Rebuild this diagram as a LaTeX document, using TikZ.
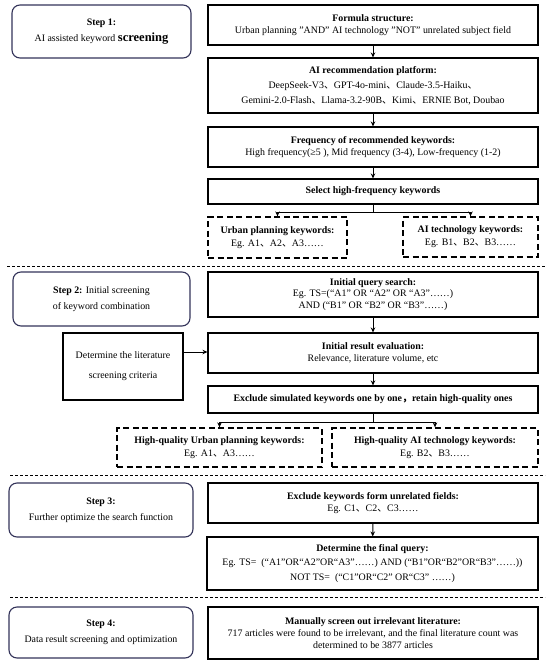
\documentclass[tikz,border=0pt]{standalone}
\usepackage{fontspec}
\setmainfont{Liberation Serif}
\newfontfamily\cjkfont{Noto Sans CJK SC}
\newcommand\dunh{{\cjkfont 、}}
\newcommand\fcomma{{\cjkfont ，}}
\usetikzlibrary{arrows.meta,calc}
\begin{document}
\begin{tikzpicture}[x=1pt,y=-1pt,
  box/.style={draw=black,line width=1.1pt,inner sep=1pt,align=center,font=\fontsize{9.9}{12.5}\selectfont},
  dbox/.style={draw=black,line width=1.3pt,dash pattern=on 6pt off 3.5pt,inner sep=1pt,align=center,font=\fontsize{9.9}{13}\selectfont},
  stepbox/.style={draw=black!75!blue!60!gray,line width=1.1pt,rounded corners=8pt,inner sep=1pt,align=center,font=\fontsize{9.9}{16}\selectfont},
  sep/.style={line width=0.9pt,dash pattern=on 3pt off 2pt},
  arr/.style={line width=1pt,-{Stealth[length=5pt,width=4.5pt]}},
  ln/.style={line width=1pt}]
\useasboundingbox (0,0) rectangle (550,665);
% Step boxes
\node[stepbox,minimum width=179pt,minimum height=53pt] (s1) at (101.5,31.5) {\textbf{Step 1:}\\AI assisted keyword {\fontsize{12.5}{16}\selectfont\textbf{screening}}};
\node[stepbox,minimum width=177pt,minimum height=54pt] (s2) at (101.5,299) {\textbf{Step 2:} Initial screening\\of keyword combination};
\node[stepbox,minimum width=184pt,minimum height=54pt] (s3) at (101,510) {\textbf{Step 3:}\\Further optimize the search function};
\node[stepbox,minimum width=184pt,minimum height=51pt] (s4) at (101,632.5) {\textbf{Step 4:}\\Data result screening and optimization};
% Step 1 column
\node[box,minimum width=330pt,minimum height=40pt] (f1) at (373,25) {\textbf{Formula structure:}\\Urban planning "AND" AI technology "NOT" unrelated subject field};
\node[box,minimum width=330pt,minimum height=55pt,font=\fontsize{9.9}{15}\selectfont] (f2) at (373,85.5) {\textbf{AI recommendation platform:}\\DeepSeek-V3\dunh GPT-4o-mini\dunh Claude-3.5-Haiku\dunh\\Gemini-2.0-Flash\dunh Llama-3.2-90B\dunh Kimi\dunh ERNIE Bot, Doubao};
\node[box,minimum width=330pt,minimum height=40pt] (f3) at (373,147) {\textbf{Frequency of recommended keywords:}\\High frequency(≥5 ), Mid frequency (3-4), Low-frequency (1-2)};
\node[box,minimum width=330pt,minimum height=25pt] (f4) at (373,191.5) {\textbf{Select high-frequency keywords}};
\node[dbox,minimum width=139pt,minimum height=41pt] (kw1) at (277.5,237.5) {\textbf{Urban planning keywords:}\\Eg. A1\dunh A2\dunh A3……};
\node[dbox,minimum width=135pt,minimum height=40pt] (kw2) at (470.5,237) {\textbf{AI technology keywords:}\\Eg. B1\dunh B2\dunh B3……};
\draw[arr] (f1) -- (f2);
\draw[arr] (f2) -- (f3);
\draw[arr] (f3) -- (f4);
\coordinate (b1) at (373,212);
\draw[ln] (f4.south) -- (b1);
\draw[arr] (b1) -| (kw1.north);
\draw[arr] (b1) -| (kw2.north);
\draw[sep] (7,266) -- (545,266);
% Step 2 column
\node[box,minimum width=330pt,minimum height=45pt,font=\fontsize{9.9}{11.5}\selectfont] (q1) at (373,294.5) {\textbf{Initial query search:}\\Eg. TS=(“A1” OR “A2” OR “A3”……)\\AND (“B1” OR “B2” OR “B3”……)};
\node[box,minimum width=330pt,minimum height=40pt] (q2) at (373,353) {\textbf{Initial result evaluation:}\\Relevance, literature volume, etc};
\node[box,minimum width=120pt,minimum height=67pt,font=\fontsize{9.9}{20}\selectfont] (crit) at (123,366.5) {Determine the literature\\screening criteria};
\node[box,minimum width=330pt,minimum height=27pt] (q3) at (373,399.5) {\textbf{Exclude simulated keywords one by one\fcomma retain high-quality ones}};
\node[dbox,minimum width=205pt,minimum height=39pt] (hq1) at (219.5,447.5) {\textbf{High-quality Urban planning keywords:}\\Eg. A1\dunh A3……};
\node[dbox,minimum width=206pt,minimum height=39pt] (hq2) at (435,447.5) {\textbf{High-quality AI technology keywords:}\\Eg. B2\dunh B3……};
\draw[arr] (q1) -- (q2);
\draw[arr] (q2) -- (q3);
\draw[arr] (crit.east |- 0,352) -- (q2.west |- 0,352);
\coordinate (b2) at (373,422);
\draw[ln] (q3.south) -- (b2);
\draw[arr] (b2) -| (hq1.north);
\draw[arr] (b2) -| (hq2.north);
\draw[sep] (10,475) -- (545,475);
% Step 3 column
\node[box,minimum width=330pt,minimum height=40pt] (e1) at (373,503) {\textbf{Exclude keywords form unrelated fields:}\\Eg. C1\dunh C2\dunh C3……};
\node[box,minimum width=331pt,minimum height=53pt,font=\fontsize{9.9}{14.5}\selectfont] (e2) at (372.5,563.5) {\textbf{Determine the final query:}\\Eg. TS=\ \ (“A1”OR“A2”OR“A3”……) AND (“B1”OR“B2”OR“B3”……))\\NOT TS=\ \ (“C1”OR“C2” OR“C3” ……)};
\draw[arr] (e1) -- (e2);
\draw[sep] (10,597) -- (545,597);
% Step 4 column
\node[box,minimum width=330pt,minimum height=52pt,font=\fontsize{9.9}{12}\selectfont] (m1) at (373,633) {\textbf{Manually screen out irrelevant literature:}\\717 articles were found to be irrelevant, and the final literature count was\\determined to be 3877 articles};
\end{tikzpicture}
\end{document}
